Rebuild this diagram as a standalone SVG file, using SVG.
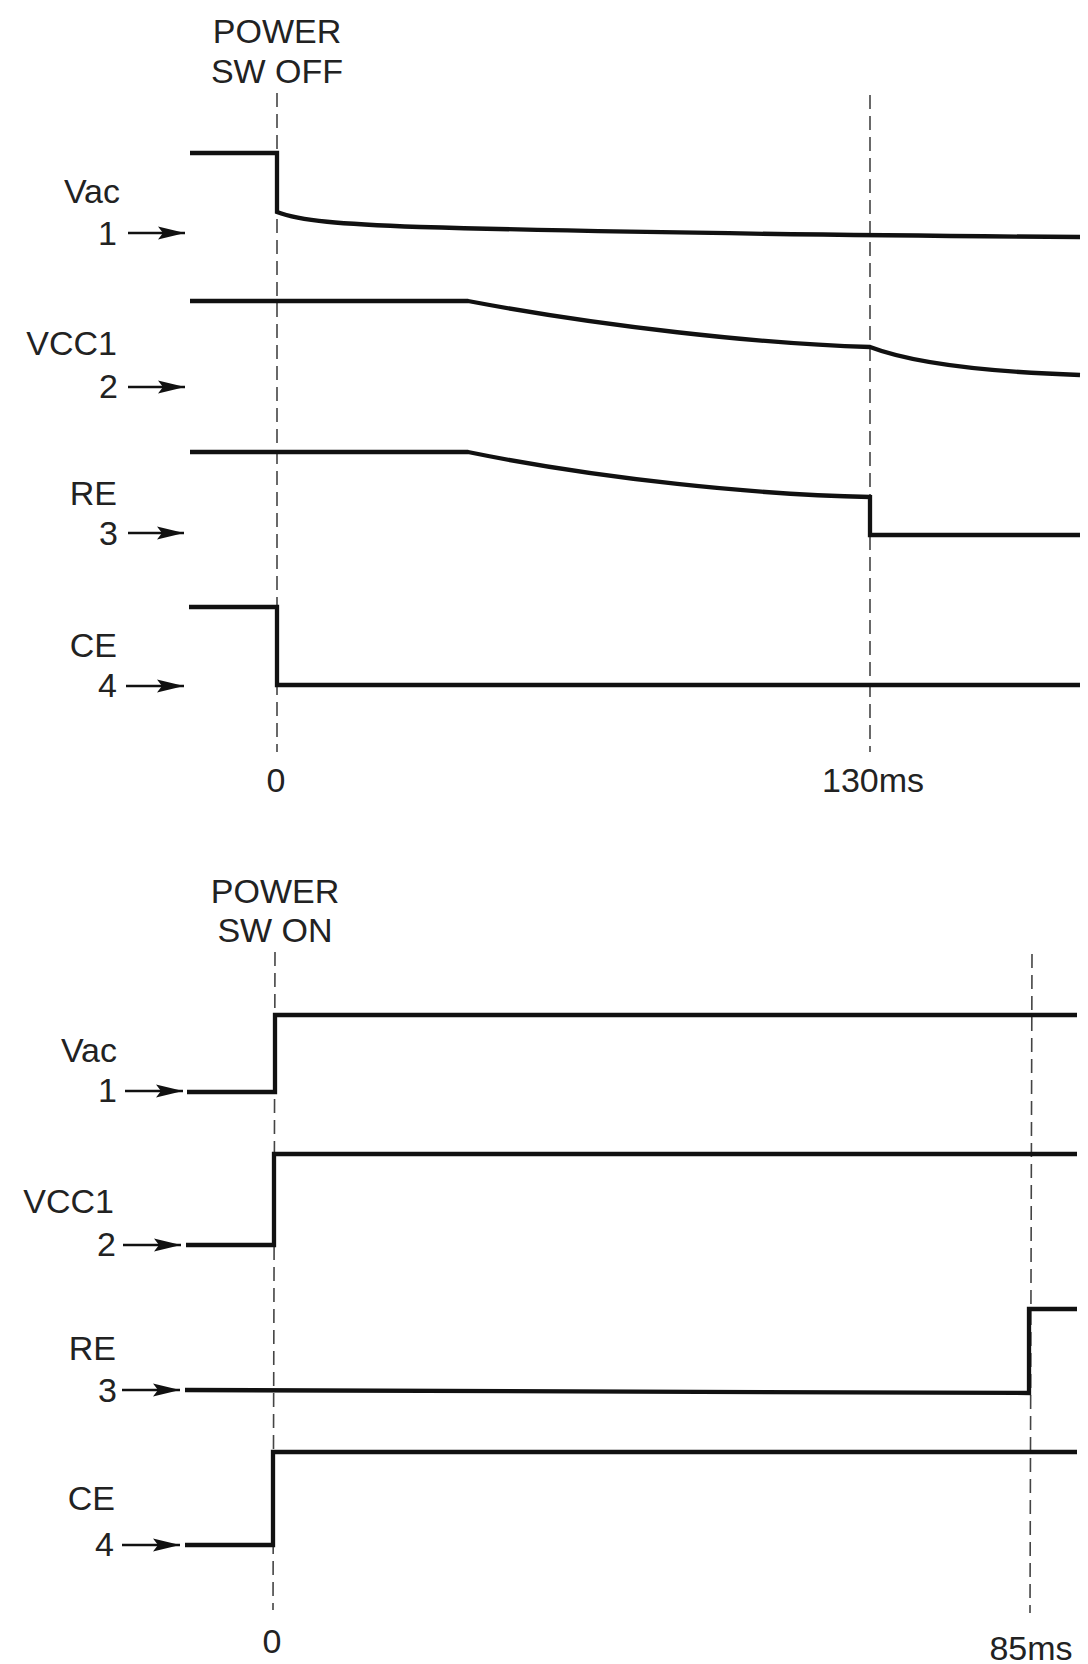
<svg xmlns="http://www.w3.org/2000/svg" width="1088" height="1664" viewBox="0 0 1088 1664">
<style>
  .t{font-family:"Liberation Sans",Arial,Helvetica,sans-serif;font-size:34px;fill:#222}
  .e{text-anchor:end}
  .m{text-anchor:middle}
  .sig{fill:none;stroke:#111;stroke-width:4.3;stroke-linejoin:miter;stroke-linecap:butt}
  .dash{fill:none;stroke:#444;stroke-width:1.6;stroke-dasharray:14 7}
  .arr{fill:none;stroke:#111;stroke-width:2.4;marker-end:url(#ah)}
</style>
<defs>
  <marker id="ah" markerUnits="userSpaceOnUse" markerWidth="28" markerHeight="16" viewBox="0 0 28 16" refX="27" refY="8" orient="auto">
    <path d="M0,1.5 L27,8 L0,14.5 L5,8 Z" fill="#111"/>
  </marker>
</defs>
<rect width="1088" height="1664" fill="#fff"/>

<!-- TOP PANEL: POWER SW OFF -->
<g id="top-header">
  <text class="t m" x="277" y="43">POWER</text>
  <text class="t m" x="277" y="83">SW OFF</text>
  <text class="t m" x="276" y="792">0</text>
  <text class="t m" x="873" y="792">130ms</text>
</g>
<g id="top-markers">
  <line class="dash" x1="277" y1="93" x2="277" y2="752"/>
  <line class="dash" x1="870" y1="95" x2="870" y2="752"/>
</g>
<g id="top-vac">
  <text class="t e" x="120" y="203">Vac</text>
  <text class="t e" x="117" y="245">1</text>
  <path class="sig" d="M190,153 H277 V212 C300,221 340,224 420,227 C600,232 800,235 1080,237"/>
</g>
<g id="top-vcc1">
  <text class="t e" x="117" y="355">VCC1</text>
  <text class="t e" x="118" y="398">2</text>
  <path class="sig" d="M190,301 H468 C600,326 760,344 870,347 Q930,370 1080,375"/>
</g>
<g id="top-re">
  <text class="t e" x="117" y="505">RE</text>
  <text class="t e" x="118" y="545">3</text>
  <path class="sig" d="M190,452 H468 C600,479 760,495 870,497 V535 H1080"/>
</g>
<g id="top-ce">
  <text class="t e" x="117" y="657">CE</text>
  <text class="t e" x="117" y="697">4</text>
  <path class="sig" d="M189,607 H277 V685 H1080"/>
</g>

<!-- BOTTOM PANEL: POWER SW ON -->
<g id="bottom-header">
  <text class="t m" x="275" y="903">POWER</text>
  <text class="t m" x="275" y="942">SW ON</text>
  <text class="t m" x="272" y="1653">0</text>
  <text class="t m" x="1031" y="1660">85ms</text>
</g>
<g id="bottom-markers">
  <line class="dash" x1="275" y1="952" x2="273" y2="1610"/>
  <line class="dash" x1="1032" y1="954" x2="1030" y2="1613"/>
</g>
<g id="bottom-vac">
  <text class="t e" x="117" y="1062">Vac</text>
  <text class="t e" x="117" y="1102">1</text>
  <path class="sig" d="M187,1092 H275 V1015 H1077"/>
</g>
<g id="bottom-vcc1">
  <text class="t e" x="114" y="1213">VCC1</text>
  <text class="t e" x="116" y="1256">2</text>
  <path class="sig" d="M186,1245 H274 V1154 H1077"/>
</g>
<g id="bottom-re">
  <text class="t e" x="116" y="1360">RE</text>
  <text class="t e" x="117" y="1402">3</text>
  <path class="sig" d="M185,1390 L1029,1393 V1309 H1077"/>
</g>
<g id="bottom-ce">
  <text class="t e" x="115" y="1510">CE</text>
  <text class="t e" x="114" y="1556">4</text>
  <path class="sig" d="M185,1545 H273 V1452 H1077"/>
</g>

<g id="connectors">
  <line class="arr" x1="128" y1="233" x2="185" y2="233"/>
  <line class="arr" x1="128" y1="387" x2="185" y2="387"/>
  <line class="arr" x1="128" y1="533" x2="184" y2="533"/>
  <line class="arr" x1="126" y1="686" x2="184" y2="686"/>
  <line class="arr" x1="125" y1="1091" x2="183" y2="1091"/>
  <line class="arr" x1="123" y1="1245" x2="181" y2="1245"/>
  <line class="arr" x1="122" y1="1390" x2="180" y2="1390"/>
  <line class="arr" x1="122" y1="1545" x2="180" y2="1545"/>
</g>
</svg>
